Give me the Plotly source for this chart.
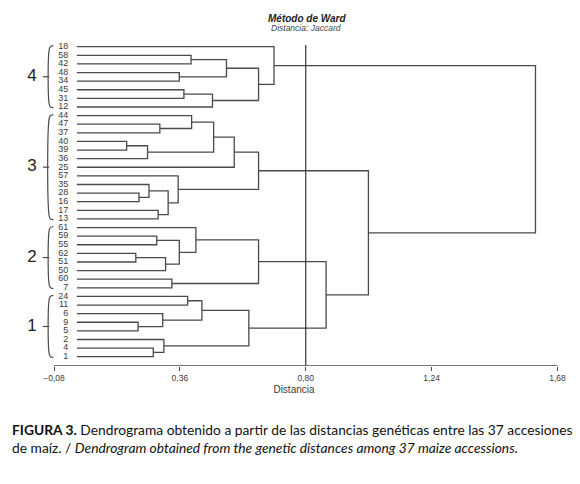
import plotly.graph_objects as go

# leaves in display order (top to bottom)
leaves = ["18", "58", "42", "48", "34", "45", "31", "12",
          "44", "47", "37", "40", "39", "36", "25", "57", "35", "28", "16", "17", "13",
          "61", "59", "55", "62", "51", "50", "60", "7",
          "24", "11", "6", "9", "5", "2", "4", "1"]

# merges: child a, child b, height (str = leaf label, int = earlier merge)
merges = [
    ["58", "42", 0.399], ["48", "34", 0.358], [0, 1, 0.523],
    ["45", "31", 0.374], [3, "12", 0.474], [2, 4, 0.635], ["18", 5, 0.689],
    ["47", "37", 0.290], ["44", 7, 0.401], ["40", "39", 0.174], [9, "36", 0.247],
    [8, 10, 0.478], [11, "25", 0.550], ["28", "16", 0.217], ["35", 13, 0.252],
    ["17", "13", 0.284], [14, 15, 0.319], ["57", 16, 0.354], [12, 17, 0.635],
    ["59", "55", 0.279], ["62", "51", 0.206], [20, "50", 0.310], [19, 21, 0.358],
    ["61", 22, 0.416], ["60", "7", 0.332], [23, 24, 0.635],
    ["24", "11", 0.387], ["9", "5", 0.214], ["6", 27, 0.300], [26, 28, 0.437],
    ["4", "1", 0.267], ["2", 30, 0.304], [29, 31, 0.601],
    [25, 32, 0.871], [18, 33, 1.019], [6, 34, 1.603],
]

group_names = ["4", "3", "2", "1"]
group_sizes = [8, 13, 8, 8]
cut_height = 0.80
xticks = [-0.08, 0.36, 0.80, 1.24, 1.68]

line_col = "#4a4a4a"
text_col = "#3a3a3a"
W, H = 572, 476  # page has an 8px body margin


def px(x):
    return (x - 8) / W


def py(y):
    return 1 - (y - 8) / H


# node positions
pos = {lab: (0.0, i) for i, lab in enumerate(leaves)}
node_pos = []


def get_pos(ref):
    if isinstance(ref, str):
        return pos[ref]
    return node_pos[ref]


lx, ly = [], []
for a, b, h in merges:
    ha, ya = get_pos(a)
    hb, yb = get_pos(b)
    lx += [ha, h, h, hb, None]
    ly += [ya, ya, yb, yb, None]
    node_pos.append((h, (ya + yb) / 2))

fig = go.Figure()
fig.add_trace(go.Scatter(x=lx, y=ly, mode="lines",
                         line=dict(color=line_col, width=1.3),
                         hoverinfo="skip", showlegend=False))

# leaf labels
fig.add_trace(go.Scatter(x=[-0.03] * len(leaves), y=list(range(len(leaves))),
                         mode="text", text=leaves, textposition="middle left",
                         textfont=dict(family="Liberation Sans, Arial", size=9, color=text_col),
                         hoverinfo="skip", showlegend=False))

# group brackets
bx, by = [], []
nx, ny = [], []
start = 0
for name, n in zip(group_names, group_sizes):
    top = start - 0.12
    bot = start + n - 1 + 0.1
    mid = (top + bot) / 2
    bx += [-0.082, -0.092, -0.0965, -0.0965, -0.092, -0.082, None,
           -0.0965, -0.119, None]
    by += [top, top + 0.1, top + 0.4, bot - 0.4, bot - 0.1, bot, None, mid, mid, None]
    nx.append(-0.14)
    ny.append(mid)
    start += n
fig.add_trace(go.Scatter(x=bx, y=by, mode="lines",
                         line=dict(color=line_col, width=1.2, shape="spline"),
                         hoverinfo="skip", showlegend=False))
fig.add_trace(go.Scatter(x=nx, y=ny, mode="text", text=group_names,
                         textposition="middle left",
                         textfont=dict(family="Liberation Sans, Arial", size=17, color="#222222"),
                         hoverinfo="skip", showlegend=False))

# cut line
fig.add_trace(go.Scatter(x=[cut_height, cut_height], y=[-0.2, 37.08], mode="lines",
                         line=dict(color="#222222", width=1.1),
                         hoverinfo="skip", showlegend=False))

# x axis line between first and last tick
fig.add_trace(go.Scatter(x=[xticks[0], xticks[-1]], y=[37.08, 37.08], mode="lines",
                         line=dict(color=line_col, width=1.3), cliponaxis=False,
                         hoverinfo="skip", showlegend=False))

fig.update_layout(
    width=W, height=H,
    margin=dict(l=0, r=0, t=0, b=0),
    paper_bgcolor="white", plot_bgcolor="white",
    separators=",.",
    xaxis=dict(domain=[0, 1], range=[-0.2408, 1.7586], showgrid=False, zeroline=False,
               showline=False, tickvals=xticks, tickformat=".2f",
               ticks="outside", ticklen=4, tickcolor=line_col, tickwidth=1.2,
               tickfont=dict(family="Liberation Sans, Arial", size=8.5, color=text_col),
               title=dict(text="Distancia", standoff=3,
                          font=dict(family="Liberation Sans, Arial", size=10, color=text_col)),
               automargin=False),
    yaxis=dict(domain=[1 - 358 / H, 1], range=[37.08, -4.495], showgrid=False,
               zeroline=False, showline=False, showticklabels=False, ticks=""),
)

fig.add_annotation(x=px(307), y=py(18), xref="paper", yref="paper", yanchor="middle",
                   text="<b><i>Método de Ward</i></b>", showarrow=False,
                   font=dict(family="Liberation Sans, Arial", size=10, color="#222222"))
fig.add_annotation(x=px(306), y=py(28.5), xref="paper", yref="paper", yanchor="middle",
                   text="<i>Distancia: Jaccard</i>", showarrow=False,
                   font=dict(family="Liberation Sans, Arial", size=8.5, color="#444444"))

cap_font = dict(family="Lato, Open Sans", size=13.8, color="#111111")
fig.add_annotation(x=px(10), y=py(429), xref="paper", yref="paper",
                   xanchor="left", yanchor="middle", showarrow=False, font=cap_font,
                   text="<b>FIGURA 3.</b> Dendrograma obtenido a partir de las distancias "
                        "genéticas entre las 37 accesiones")
fig.add_annotation(x=px(10), y=py(447), xref="paper", yref="paper",
                   xanchor="left", yanchor="middle", showarrow=False, font=cap_font,
                   text="de maíz. / <i>Dendrogram obtained from the genetic distances "
                        "among 37 maize accessions.</i>")

fig.write_html("out.html")
